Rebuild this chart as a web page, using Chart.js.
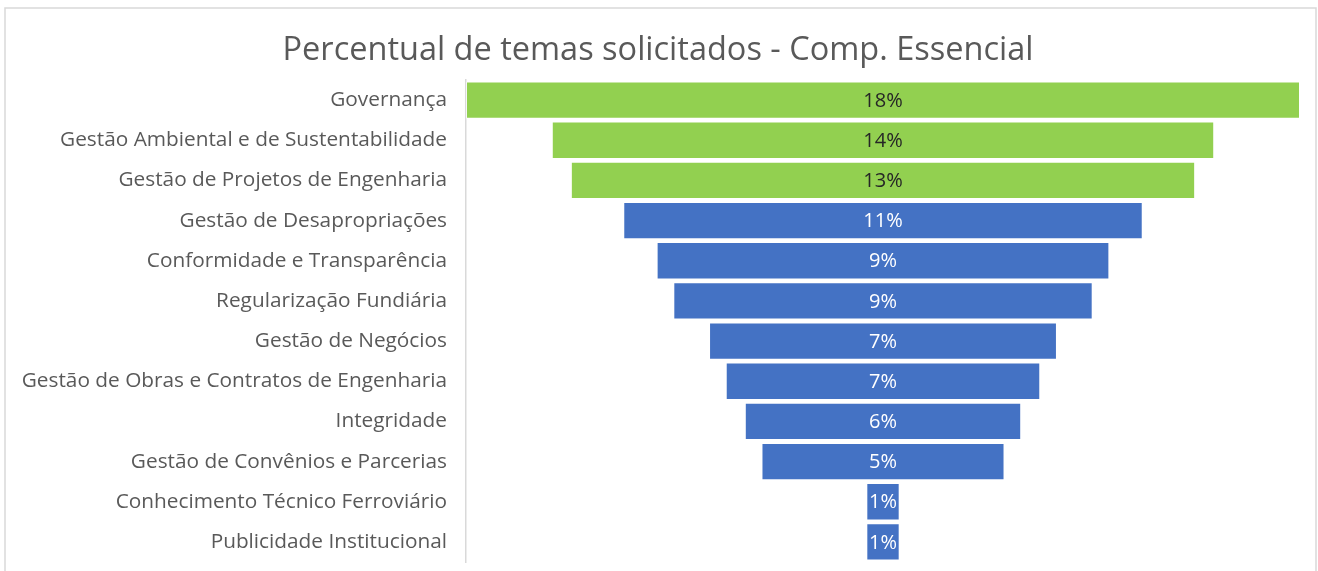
<!DOCTYPE html>
<html lang="pt">
<head>
    <meta charset="UTF-8" />
    <title>Percentual de temas solicitados - Comp. Essencial</title>
    <style>
        body { margin: 0; background: #fff; }
        .wrap { position: relative; width: 1318px; height: 571px; }
    </style>
</head>
<body>
    <div class="wrap">
        <canvas id="funil" width="1318" height="571"></canvas>
    </div>

    <script src="https://cdn.jsdelivr.net/npm/chart.js"></script>
    <script>
        const temas = [
            'Governança',
            'Gestão Ambiental e de Sustentabilidade',
            'Gestão de Projetos de Engenharia',
            'Gestão de Desapropriações',
            'Conformidade e Transparência',
            'Regularização Fundiária',
            'Gestão de Negócios',
            'Gestão de Obras e Contratos de Engenharia',
            'Integridade',
            'Gestão de Convênios e Parcerias',
            'Conhecimento Técnico Ferroviário',
            'Publicidade Institucional'
        ];
        // percentual (largura da barra) e rótulo exibido
        const percentual = [17.5, 13.9, 13.1, 10.9, 9.5, 8.8, 7.3, 6.6, 5.8, 5.1, 0.7, 0.7];
        const rotulos = ['18%', '14%', '13%', '11%', '9%', '9%', '7%', '7%', '6%', '5%', '1%', '1%'];
        const destaque = [true, true, true, false, false, false, false, false, false, false, false, false];

        const verde = '#92D050';
        const azul = '#4472C4';
        const texto = '#595959';
        const fonte = "'Open Sans', sans-serif";

        const maxPct = Math.max(...percentual);

        // moldura cinza em volta do gráfico
        const moldura = {
            id: 'moldura',
            beforeDraw(chart) {
                const ctx = chart.ctx;
                ctx.save();
                ctx.strokeStyle = '#d9d9d9';
                ctx.lineWidth = 1.5;
                ctx.strokeRect(5, 8, 1311, 580);
                ctx.restore();
            }
        };

        // rótulos de dados no centro de cada barra
        const rotulosBarras = {
            id: 'rotulosBarras',
            afterDatasetsDraw(chart) {
                const ctx = chart.ctx;
                const meta = chart.getDatasetMeta(0);
                ctx.save();
                ctx.font = "20px " + fonte;
                ctx.textAlign = 'center';
                ctx.textBaseline = 'middle';
                meta.data.forEach((bar, i) => {
                    const cx = (bar.x + bar.base) / 2;
                    ctx.fillStyle = destaque[i] ? '#262626' : '#ffffff';
                    ctx.fillText(rotulos[i], cx, bar.y + 1);
                });
                ctx.restore();
            }
        };

        new Chart(document.getElementById('funil'), {
            type: 'bar',
            data: {
                labels: temas,
                datasets: [{
                    data: percentual.map(v => [-v / 2, v / 2]),
                    backgroundColor: destaque.map(d => d ? verde : azul),
                    borderColor: 'rgba(255,255,255,0.6)',
                    borderWidth: 1,
                    borderSkipped: false,
                    barPercentage: 0.93,
                    categoryPercentage: 1
                }]
            },
            options: {
                indexAxis: 'y',
                responsive: false,
                animation: false,
                layout: { padding: { left: 16, right: 18, top: 0, bottom: 9 } },
                plugins: {
                    legend: { display: false },
                    tooltip: { enabled: false },
                    title: {
                        display: true,
                        text: 'Percentual de temas solicitados - Comp. Essencial',
                        color: texto,
                        font: { family: fonte, size: 32.5, weight: 'normal' },
                        padding: { top: 31, bottom: 10 }
                    }
                },
                scales: {
                    x: {
                        display: false,
                        min: -maxPct / 2,
                        max: maxPct / 2
                    },
                    y: {
                        grid: { display: false },
                        border: { display: true, color: '#d9d9d9', width: 1.5 },
                        ticks: {
                            color: texto,
                            padding: 11,
                            font: { family: fonte, size: 20.8 }
                        },
                        afterFit(scale) {
                            scale.width = 450;
                            scale.paddingTop = 0;
                            scale.paddingBottom = 0;
                        }
                    }
                }
            },
            plugins: [moldura, rotulosBarras]
        });
    </script>
</body>
</html>
